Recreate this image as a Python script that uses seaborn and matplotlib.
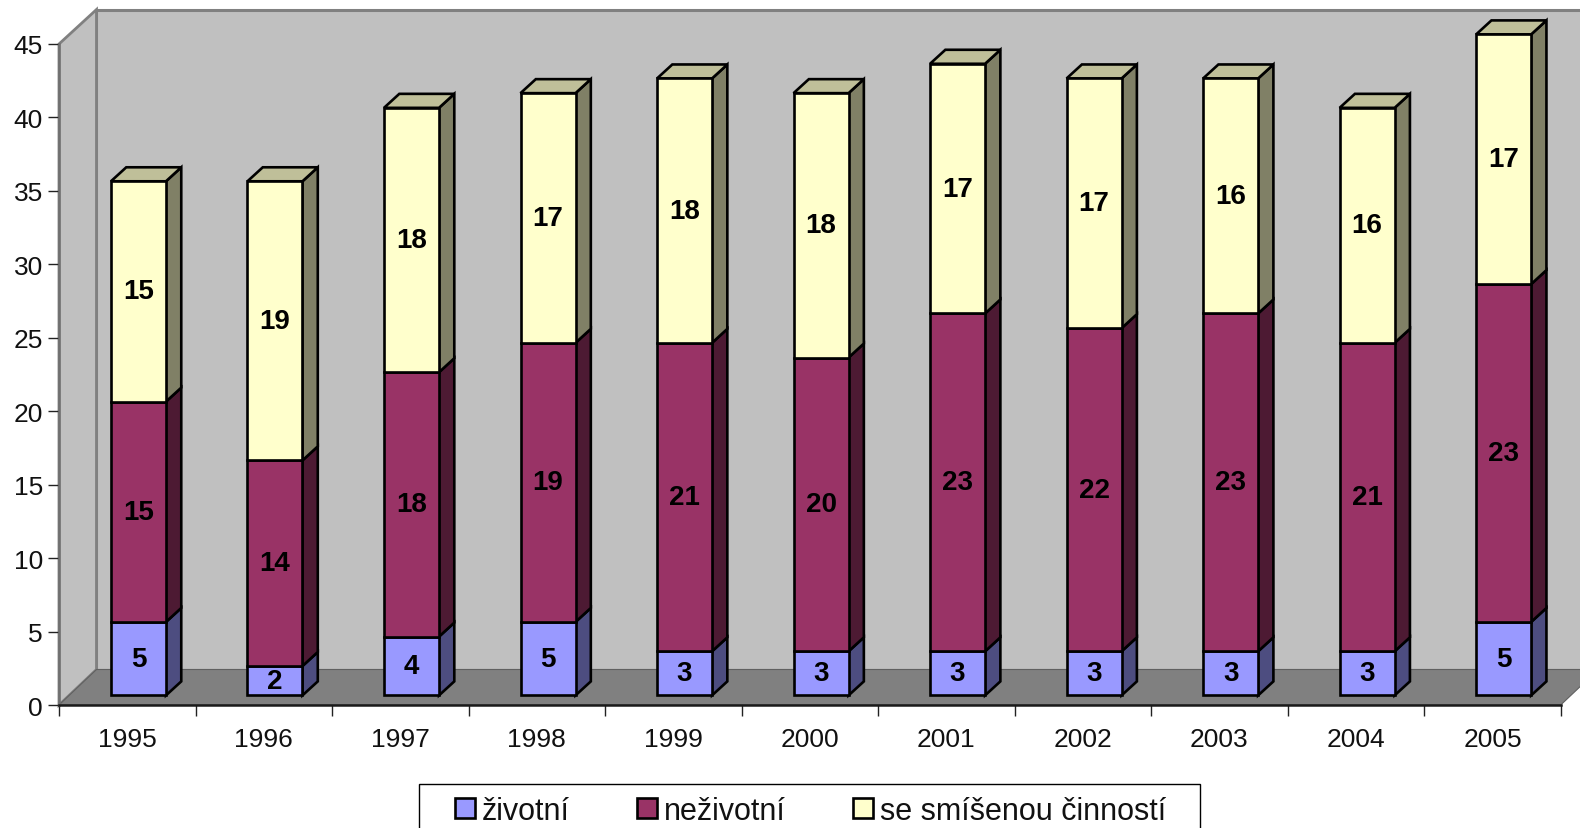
import pandas as pd
import matplotlib.pyplot as plt
import seaborn as sns
from matplotlib.patches import Patch, Polygon, Rectangle
from matplotlib.transforms import Affine2D

years = ['1995', '1996', '1997', '1998', '1999', '2000', '2001', '2002', '2003', '2004', '2005']
zivotni = [5, 2, 4, 5, 3, 3, 3, 3, 3, 3, 5]
nezivotni = [15, 14, 18, 19, 21, 20, 23, 22, 23, 21, 23]
smisene = [15, 19, 18, 17, 18, 18, 17, 17, 16, 16, 17]
series_names = ['životní', 'neživotní', 'se smíšenou činností']

front_colors = ['#9999FF', '#993366', '#FFFFCC']
side_colors = ['#4D4D80', '#4D1A33', '#808066']
top_color = '#BFBF99'

W, H = 1580, 829
LEFT, RIGHT, BASE, TOP = 59, 1560.7, 706, 45
STEP = (RIGHT - LEFT) / len(years)
UNIT = (BASE - TOP) / 45
BAR_W = 55 / STEP
SIDE_X, SIDE_Y = 15.3 / STEP, 14 / UNIT
EDGE = 1.9

sns.set_theme(style='white')
plt.rcParams['font.family'] = ['Liberation Sans', 'DejaVu Sans']

fig = plt.figure(figsize=(W / 100, H / 100), dpi=100, facecolor='white')
ax = fig.add_axes([LEFT / W, 1 - BASE / H, (RIGHT - LEFT) / W, (BASE - TOP) / H])
ax.patch.set_alpha(0)

# the bars stand part way into the floor, and the wall is at its far end
bar_shift = ax.transData + Affine2D().translate(11.2, 9.6)
wall_shift = ax.transData + Affine2D().translate(37.5, 35.5)

x0, x1 = -0.5, len(years) - 0.5
depth_x, depth_y = 37.5 / STEP, 35.5 / UNIT

# walls and floor
ax.add_patch(Rectangle((x0, 0), x1 - x0, 44.93, transform=wall_shift, fc='#C0C0C0',
                       ec='#808080', lw=2.2, clip_on=False, zorder=0))
ax.add_patch(Polygon([(x0, 0), (x0 + depth_x, depth_y), (x0 + depth_x, 44.93 + depth_y), (x0, 45)],
                     fc='#C0C0C0', ec='#808080', lw=2, clip_on=False, zorder=0.1))
ax.add_patch(Polygon([(x0, 0), (x0 + depth_x, depth_y), (x1 + depth_x, depth_y), (x1, 0)],
                     fc='#808080', ec='#606060', lw=0.8, clip_on=False, zorder=0.2))

bottoms = [0] * len(years)
for values, front, side, name in zip([zivotni, nezivotni, smisene], front_colors, side_colors, series_names):
    df = pd.DataFrame({'year': years, 'value': values})
    sns.barplot(data=df, x='year', y='value', ax=ax, color=front, saturation=1, width=BAR_W,
                errorbar=None, edgecolor='black', linewidth=EDGE, bottom=bottoms,
                transform=bar_shift, zorder=3, clip_on=False)
    for i, val in enumerate(values):
        b = bottoms[i]
        t = b + val
        xr = i + BAR_W / 2
        ax.add_patch(Polygon([(xr, b), (xr + SIDE_X, b + SIDE_Y), (xr + SIDE_X, t + SIDE_Y), (xr, t)],
                             transform=bar_shift, fc=side, ec='black', lw=EDGE, zorder=2,
                             joinstyle='miter', clip_on=False))
        ax.text(i, b + val / 2, str(val), transform=bar_shift, ha='center', va='center',
                fontsize=20, fontweight='bold', color='black', zorder=5)
    bottoms = [b + v for b, v in zip(bottoms, values)]

# lid of each column
for i, t in enumerate(bottoms):
    xl, xr = i - BAR_W / 2, i + BAR_W / 2
    ax.add_patch(Polygon([(xl, t), (xl + SIDE_X, t + SIDE_Y), (xr + SIDE_X, t + SIDE_Y), (xr, t)],
                         transform=bar_shift, fc=top_color, ec='black', lw=EDGE, zorder=2,
                         joinstyle='miter', clip_on=False))

ax.set_xlim(x0, x1)
ax.set_ylim(0, 45)
ax.set_xlabel('')
ax.set_ylabel('')
ax.set_yticks(range(0, 46, 5))
ax.set_xticks(range(len(years)))
ax.set_xticklabels(years)
ax.set_xticks([x0 + i for i in range(len(years) + 1)], minor=True)
ax.tick_params(axis='x', which='major', length=0, pad=15.5, labelsize=19, labelcolor='#111111')
ax.tick_params(axis='x', which='minor', length=8, width=1, color='#222222', bottom=True)
ax.tick_params(axis='y', length=8, width=1, color='#222222', pad=3.5, labelsize=19,
               labelcolor='#111111', left=True)
for name in ['top', 'right']:
    ax.spines[name].set_visible(False)
ax.spines['left'].set_color('#707070')
ax.spines['left'].set_linewidth(1.8)
ax.spines['bottom'].set_color('#1A1A1A')
ax.spines['bottom'].set_linewidth(1.8)

# legend, its box runs past the bottom of the picture
fig.add_artist(Rectangle((419 / W, -0.02), (1200 - 419) / W, 1 - 785 / H + 0.02,
                         transform=fig.transFigure, fc='white', ec='black', lw=1))
handles = [Patch(fc=c, ec='black', lw=EDGE) for c in front_colors]
leg = fig.legend(handles, series_names, ncol=3, loc='center left', frameon=False,
                 bbox_to_anchor=(455 / W, 1 - 812 / H), borderpad=0, borderaxespad=0,
                 fontsize=22, handlelength=0.65, handleheight=0.65, handletextpad=0.23,
                 columnspacing=2.2, labelcolor='#111111')

fig.savefig('out.png', dpi=100)
